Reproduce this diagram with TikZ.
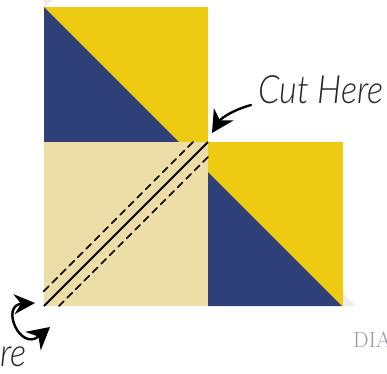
\documentclass[tikz,border=0pt]{standalone}
\usepackage{fontspec}
\newfontfamily\handfont{Lato Light}
\usetikzlibrary{arrows.meta}
\definecolor{quiltblue}{HTML}{2F3F78}
\definecolor{quiltyellow}{HTML}{EDCB12}
\definecolor{quilttan}{HTML}{EDDDA7}
\definecolor{shadowgray}{HTML}{F0ECEC}
\definecolor{labelgray}{HTML}{9A9AA2}
\tikzset{
  cuttext/.style={font=\handfont\itshape\fontsize{39}{39}\selectfont,text=black!85,inner sep=0pt,xscale=0.88},
  seam/.style={line width=1.6pt,dash pattern=on 7pt off 5pt},
  cutline/.style={line width=2pt},
  pointer/.style={line width=2.4pt,-{Stealth[length=22pt,width=23pt,inset=7pt]}},
  twopointer/.style={line width=2.4pt,{Stealth[length=21pt,width=20pt,inset=7pt]}-{Stealth[length=22pt,width=24pt,inset=7pt]}}
}
\begin{document}
\begin{tikzpicture}[x=1pt,y=-1pt,line join=round,line cap=round]
			\useasboundingbox (0,0) rectangle (387,373);
			% faint shadows
			\fill[shadowgray] (44,0)--(53,0)--(44,7)--cycle;
			\fill[shadowgray] (343,293)--(343,306)--(356,306)--cycle;
			% top block
			\fill[quiltyellow] (44,7) rectangle (208,142);
			\fill[quiltblue] (44,7)--(44,142)--(179,142)--cycle;
			% right block
			\fill[quiltyellow] (208,142) rectangle (343,306);
			\fill[quiltblue] (208,172)--(208,306)--(342,306)--cycle;
			% lower left block
			\fill[quilttan] (44,142) rectangle (208,306);
			% cut and seam lines
			\coordinate (cutA) at (208,142);
			\coordinate (cutB) at (44,306);
			\coordinate (seamA) at (193,142);
			\coordinate (seamB) at (43,292);
			\coordinate (seamC) at (208,157);
			\coordinate (seamD) at (59,306);
			\draw[seam] (seamA)--(seamB);
			\draw[seam] (seamC)--(seamD);
			\draw[cutline,line cap=butt] (cutA)--(cutB);
			% labels
			\node[cuttext,anchor=base west] (cuttop) at (258,103) {Cut Here};
			\node[cuttext,anchor=base east] (cutlow) at (27,366) {re};
			\node[font=\fontsize{22}{22}\selectfont,text=labelgray,anchor=base west,inner sep=0pt] (dia) at (353,347) {DIA};
			% arrows
			\coordinate (toptail) at (251,105);
			\coordinate (toptip) at (212,133);
			\coordinate (lowtipA) at (35,303);
			\coordinate (lowtipB) at (50,327);
			\draw[pointer] (toptail) .. controls (236,109) and (222,117) .. (toptip);
			\draw[twopointer] (lowtipA) .. controls (0,305) and (20,352) .. (lowtipB);
		\end{tikzpicture}
\end{document}
